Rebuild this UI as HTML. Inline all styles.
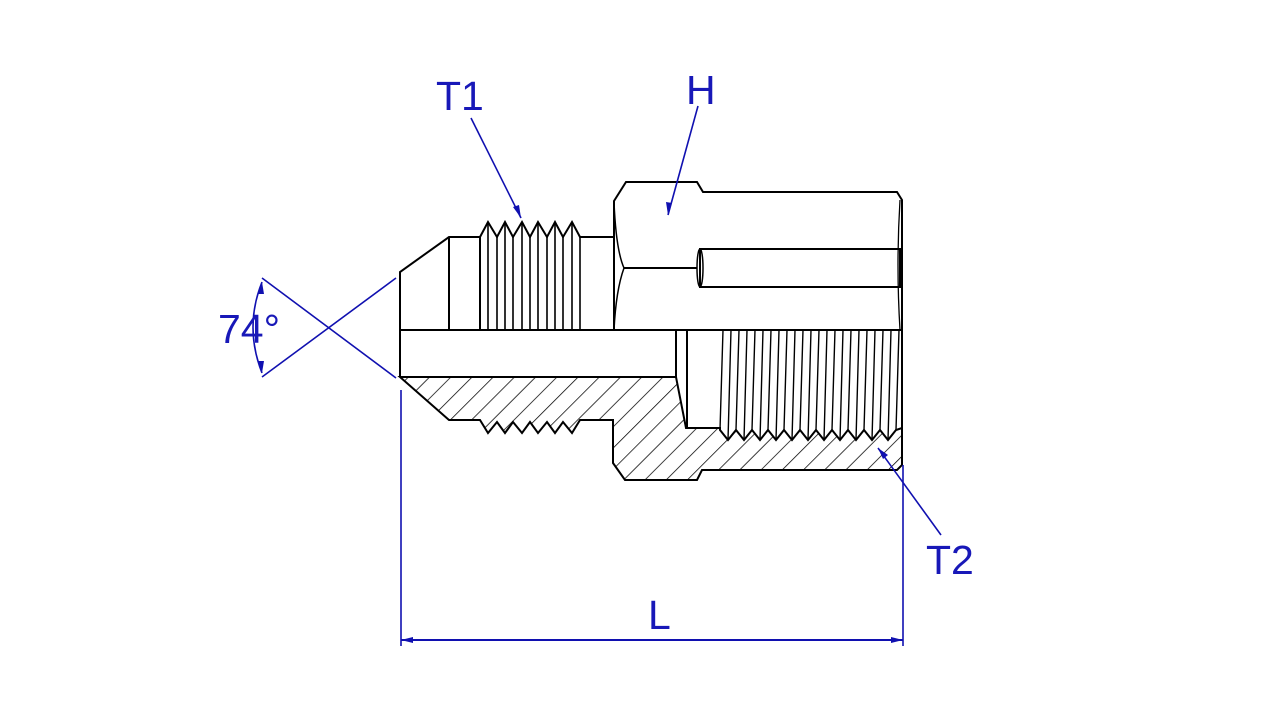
<!DOCTYPE html>
<html><head><meta charset="utf-8"><style>
html,body{margin:0;padding:0;background:#fff;}
svg{display:block;}
text{font-family:"Liberation Sans",sans-serif;fill:#1818b8;}
</style></head><body>
<svg width="1280" height="720" viewBox="0 0 1280 720" xmlns="http://www.w3.org/2000/svg">
<defs>
<pattern id="h" patternUnits="userSpaceOnUse" width="15" height="15" patternTransform="rotate(45)">
<line x1="0" y1="0" x2="0" y2="15" stroke="#000" stroke-width="1.5"/>
</pattern>
</defs>
<path d="M400,377 L676,377 L686,428 L720,428 L720,430 L728,440 L736,430 L744,440 L752,430 L760,440 L768,430 L776,440 L784,430 L792,440 L800,430 L808,440 L816,430 L824,440 L832,430 L840,440 L848,430 L856,440 L864,430 L872,440 L880,430 L888,440 L896,430 L902,428 L902,465 L897,470 L702,470 L697,480 L625,480 L613,463 L613,420 L580,420 L572,433 L563,422 L555,433 L547,422 L538,433 L530,422 L522,433 L513,422 L505,433 L497,422 L488,433 L480,420 L449,420 Z" fill="url(#h)" stroke="#000" stroke-width="2"/>
<g fill="none" stroke="#000" stroke-width="2">
<path d="M400,377 L400,272 L449,237 L480,237"/>
<line x1="449" y1="237" x2="449" y2="330"/>
<path d="M480,237 L480,330 M480,237 L488,222 L497,237 L505,222 L513,237 L522,222 L530,237 L538,222 L547,237 L555,222 L563,237 L572,222 L580,237 L613,237"/>
<path d="M488,222 V330 M497,237 V330 M505,222 V330 M513,237 V330 M522,222 V330 M530,237 V330 M538,222 V330 M547,237 V330 M555,222 V330 M563,237 V330 M572,222 V330 M580,237 V330" stroke-width="1.6"/>
<line x1="400" y1="330" x2="902" y2="330"/>
<line x1="676" y1="330" x2="676" y2="377"/>
<line x1="687" y1="330" x2="687" y2="428"/>
<path d="M614,330 L614,201 L626,182 L697,182 L703,192 L897,192 L902,200 L902,465"/>
<path d="M614,202 Q616,250 624,268 Q616,290 614,330" stroke-width="1.5"/>
<line x1="624" y1="268" x2="697" y2="268"/>
<path d="M900,200 Q896,265 900,330" stroke-width="1.3"/>
<rect x="700" y="249" width="200" height="38"/>
<ellipse cx="700" cy="268" rx="3" ry="19" stroke-width="1.5"/>
<path stroke-width="1.4" d="M723,330 L720,430 M731,330 L728,440 M739,330 L736,430 M747,330 L744,440 M755,330 L752,430 M763,330 L760,440 M771,330 L768,430 M779,330 L776,440 M787,330 L784,430 M795,330 L792,440 M803,330 L800,430 M811,330 L808,440 M819,330 L816,430 M827,330 L824,440 M835,330 L832,430 M843,330 L840,440 M851,330 L848,430 M859,330 L856,440 M867,330 L864,430 M875,330 L872,440 M883,330 L880,430 M891,330 L888,440 M899,330 L896,430"/>
</g>
<g stroke="#1010b0" stroke-width="1.6" fill="none">
<line x1="262" y1="278" x2="396" y2="378"/>
<line x1="262" y1="377" x2="396" y2="278"/>
<path d="M262,282 Q244,327 262,373"/>
<line x1="471" y1="118" x2="521" y2="218"/>
<line x1="698" y1="106" x2="668" y2="215"/>
<line x1="941" y1="535" x2="878" y2="448"/>
<line x1="401" y1="390" x2="401" y2="646"/>
<line x1="903" y1="465" x2="903" y2="646"/>
<line x1="401" y1="640" x2="903" y2="640" stroke-width="2"/>
</g>
<g fill="#1010b0">
<path d="M521,218 L513,207 L519,205 Z"/>
<path d="M668,215 L666,202 L672,203 Z"/>
<path d="M878,448 L888,455 L883,459 Z"/>
<path d="M401,640 L413,637 L413,643 Z"/>
<path d="M903,640 L891,637 L891,643 Z"/>
<path d="M262,282 L258,294 L264,294 Z"/>
<path d="M262,373 L258,361 L264,361 Z"/>
</g>
<text x="436" y="110" font-size="41">T1</text>
<text x="686" y="104" font-size="41">H</text>
<text x="926" y="574" font-size="41">T2</text>
<text x="648" y="629" font-size="41">L</text>
<text x="218" y="343" font-size="41">74°</text>
</svg>
</body></html>
